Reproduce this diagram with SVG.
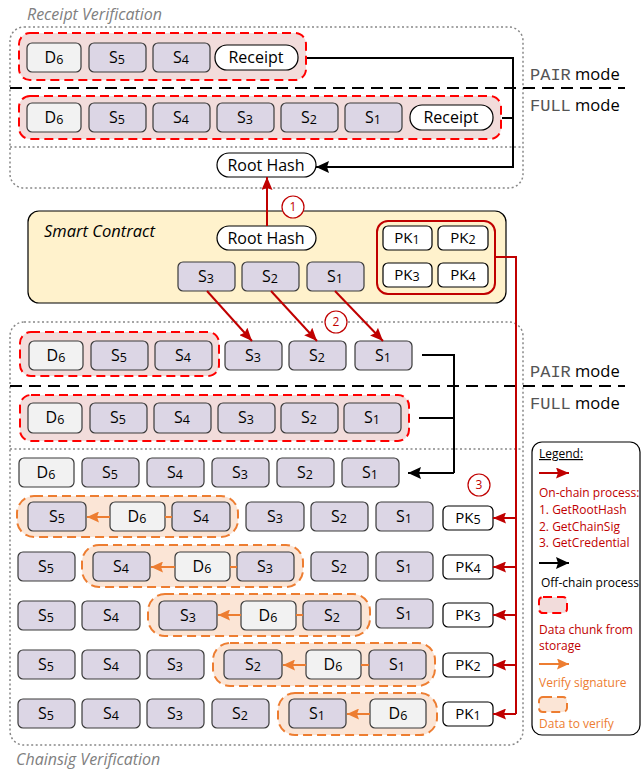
<svg xmlns="http://www.w3.org/2000/svg" width="641" height="771" viewBox="0 0 641 771">
<style>
.s{fill:#dcd6e5;stroke:#3a3a3a;stroke-width:1.2}
.d{fill:#f2f2f2;stroke:#3a3a3a;stroke-width:1.2}
.w{fill:#fff;stroke:#000;stroke-width:1.2}
.rg{fill:#f2dcdb;stroke:#ff0000;stroke-width:2;stroke-dasharray:9 5}
.og{fill:#fbe5d6;stroke:#ed7d31;stroke-width:2;stroke-dasharray:9 5}
.box{fill:none;stroke:#888;stroke-width:1.5;stroke-dasharray:2 2.5}
.dot{stroke:#888;stroke-width:1.5;stroke-dasharray:2 2.5}
.dash{stroke:#000;stroke-width:2;stroke-dasharray:12 7}
text{font-family:"Open Sans","Liberation Sans",sans-serif}
.t{font-size:16px;text-anchor:middle;fill:#000}
.p{font-size:15px}
.sub{font-size:12.5px}
.mono{font-family:"Liberation Mono","Courier New",monospace;font-size:17px;fill:#555}
.mode{font-size:16.5px;fill:#000}
.title{font-size:16px;font-style:italic;fill:#808080}
.red{stroke:#c00000;stroke-width:2;fill:none}
.blk{stroke:#000;stroke-width:2;fill:none}
.org{stroke:#ed7d31;stroke-width:2;fill:none}
.lg{font-size:12px}
.num{font-size:12px;fill:#c00000;text-anchor:middle}
</style>
<defs>
<marker id="ar" viewBox="0 0 13 11" refX="13" refY="5.5" markerWidth="13" markerHeight="11" orient="auto" markerUnits="userSpaceOnUse"><path d="M0,0 L13,5.5 L0,11 L2,5.5 z" fill="#c00000"/></marker>
<marker id="ab" viewBox="0 0 13 12" refX="13" refY="6" markerWidth="13" markerHeight="12" orient="auto" markerUnits="userSpaceOnUse"><path d="M0,0 L13,6 L0,12 L2,6 z" fill="#000"/></marker>
<marker id="ao" viewBox="0 0 12 11" refX="12" refY="5.5" markerWidth="12" markerHeight="11" orient="auto" markerUnits="userSpaceOnUse"><path d="M0,0 L12,5.5 L0,11 L2,5.5 z" fill="#ed7d31"/></marker>
</defs>

<!-- Receipt Verification frame -->
<g id="receipt-verification">
<text class="title" x="27" y="20">Receipt Verification</text>
<rect class="box" x="10" y="27" width="513" height="161" rx="14"/>
<line class="dot" x1="10" y1="147" x2="523" y2="147"/>
<line class="dash" x1="10" y1="88" x2="625" y2="88"/>
<text x="530" y="80" class="mode"><tspan class="mono">PAIR</tspan> mode</text>
<text x="530" y="111" class="mode"><tspan class="mono">FULL</tspan> mode</text>
</g>

<g id="rv-pair">
<rect class="rg" x="19" y="33" width="287" height="47" rx="11"/>
<rect class="d" x="27" y="43" width="54" height="29" rx="5"/><text class="t" x="54" y="63">D<tspan class="sub" dy="1">6</tspan></text>
<rect class="s" x="89" y="43" width="57" height="29" rx="5"/><text class="t" x="117" y="63">S<tspan class="sub" dy="1">5</tspan></text>
<rect class="s" x="153" y="43" width="57" height="29" rx="5"/><text class="t" x="181" y="63">S<tspan class="sub" dy="1">4</tspan></text>
<rect class="w" x="215" y="45" width="83" height="25" rx="12"/><text class="t" x="256" y="63">Receipt</text>
</g>

<g id="rv-full">
<rect class="rg" x="19" y="96" width="482" height="43" rx="11"/>
<rect class="d" x="27" y="103" width="54" height="29" rx="5"/><text class="t" x="54" y="123">D<tspan class="sub" dy="1">6</tspan></text>
<rect class="s" x="89" y="103" width="57" height="29" rx="5"/><text class="t" x="117" y="123">S<tspan class="sub" dy="1">5</tspan></text>
<rect class="s" x="153" y="103" width="57" height="29" rx="5"/><text class="t" x="181" y="123">S<tspan class="sub" dy="1">4</tspan></text>
<rect class="s" x="217" y="103" width="57" height="29" rx="5"/><text class="t" x="245" y="123">S<tspan class="sub" dy="1">3</tspan></text>
<rect class="s" x="281" y="103" width="57" height="29" rx="5"/><text class="t" x="309" y="123">S<tspan class="sub" dy="1">2</tspan></text>
<rect class="s" x="345" y="103" width="57" height="29" rx="5"/><text class="t" x="373" y="123">S<tspan class="sub" dy="1">1</tspan></text>
<rect class="w" x="410" y="105" width="83" height="25" rx="12"/><text class="t" x="451" y="123">Receipt</text>
</g>

<g id="root-hash-top">
<rect class="w" x="217" y="153" width="99" height="24" rx="12"/><text class="t" x="266" y="171">Root Hash</text>
</g>

<!-- Smart contract -->
<g id="smart-contract">
<rect x="28" y="211" width="478" height="92" rx="11" fill="#fff2cc" stroke="#000" stroke-width="1.2"/>
<text x="44" y="237" style="font-size:16.5px;font-style:italic;fill:#000">Smart Contract</text>
<rect class="w" x="217" y="226" width="99" height="24" rx="12"/><text class="t" x="266" y="244">Root Hash</text>
<rect class="s" x="178" y="262" width="57" height="29" rx="5"/><text class="t" x="206" y="282">S<tspan class="sub" dy="1">3</tspan></text>
<rect class="s" x="242" y="262" width="57" height="29" rx="5"/><text class="t" x="270" y="282">S<tspan class="sub" dy="1">2</tspan></text>
<rect class="s" x="307" y="262" width="57" height="29" rx="5"/><text class="t" x="335" y="282">S<tspan class="sub" dy="1">1</tspan></text>
<rect x="377" y="221" width="118" height="73" rx="11" fill="none" stroke="#c00000" stroke-width="2"/>
<rect class="w" x="383" y="226" width="49" height="24" rx="5"/><text class="t p" x="407" y="243">PK<tspan class="sub" dy="1">1</tspan></text>
<rect class="w" x="438" y="226" width="50" height="24" rx="5"/><text class="t p" x="463" y="243">PK<tspan class="sub" dy="1">2</tspan></text>
<rect class="w" x="383" y="263" width="49" height="24" rx="5"/><text class="t p" x="407" y="280">PK<tspan class="sub" dy="1">3</tspan></text>
<rect class="w" x="438" y="263" width="50" height="24" rx="5"/><text class="t p" x="463" y="280">PK<tspan class="sub" dy="1">4</tspan></text>
</g>

<!-- Chainsig Verification frame -->
<g id="chainsig-verification">
<rect class="box" x="10" y="322" width="513" height="423" rx="14"/>
<line class="dot" x1="10" y1="449" x2="523" y2="449"/>
<line class="dash" x1="10" y1="386" x2="625" y2="386"/>
<text x="530" y="377" class="mode"><tspan class="mono">PAIR</tspan> mode</text>
<text x="530" y="409" class="mode"><tspan class="mono">FULL</tspan> mode</text>
<text class="title" x="16" y="765">Chainsig Verification</text>
</g>

<g id="cv-pair">
<rect class="rg" x="20" y="332" width="199" height="44" rx="11"/>
<rect class="d" x="29" y="341" width="54" height="29" rx="5"/><text class="t" x="56" y="361">D<tspan class="sub" dy="1">6</tspan></text>
<rect class="s" x="91" y="341" width="57" height="29" rx="5"/><text class="t" x="119" y="361">S<tspan class="sub" dy="1">5</tspan></text>
<rect class="s" x="155" y="341" width="57" height="29" rx="5"/><text class="t" x="183" y="361">S<tspan class="sub" dy="1">4</tspan></text>
<rect class="s" x="225" y="341" width="57" height="29" rx="5"/><text class="t" x="253" y="361">S<tspan class="sub" dy="1">3</tspan></text>
<rect class="s" x="289" y="341" width="57" height="29" rx="5"/><text class="t" x="317" y="361">S<tspan class="sub" dy="1">2</tspan></text>
<rect class="s" x="355" y="341" width="57" height="29" rx="5"/><text class="t" x="383" y="361">S<tspan class="sub" dy="1">1</tspan></text>
</g>

<g id="cv-full">
<rect class="rg" x="20" y="395" width="389" height="46" rx="11"/>
<rect class="d" x="28" y="403" width="54" height="30" rx="5"/><text class="t" x="55" y="423">D<tspan class="sub" dy="1">6</tspan></text>
<rect class="s" x="90" y="403" width="57" height="30" rx="5"/><text class="t" x="118" y="423">S<tspan class="sub" dy="1">5</tspan></text>
<rect class="s" x="154" y="403" width="57" height="30" rx="5"/><text class="t" x="182" y="423">S<tspan class="sub" dy="1">4</tspan></text>
<rect class="s" x="218" y="403" width="57" height="30" rx="5"/><text class="t" x="246" y="423">S<tspan class="sub" dy="1">3</tspan></text>
<rect class="s" x="281" y="403" width="57" height="30" rx="5"/><text class="t" x="309" y="423">S<tspan class="sub" dy="1">2</tspan></text>
<rect class="s" x="344" y="403" width="57" height="30" rx="5"/><text class="t" x="372" y="423">S<tspan class="sub" dy="1">1</tspan></text>
</g>

<g id="cv-row3">
<rect class="d" x="19" y="458" width="55" height="29" rx="5"/><text class="t" x="46" y="478">D<tspan class="sub" dy="1">6</tspan></text>
<rect class="s" x="82" y="458" width="57" height="29" rx="5"/><text class="t" x="110" y="478">S<tspan class="sub" dy="1">5</tspan></text>
<rect class="s" x="147" y="458" width="57" height="29" rx="5"/><text class="t" x="175" y="478">S<tspan class="sub" dy="1">4</tspan></text>
<rect class="s" x="212" y="458" width="57" height="29" rx="5"/><text class="t" x="240" y="478">S<tspan class="sub" dy="1">3</tspan></text>
<rect class="s" x="277" y="458" width="57" height="29" rx="5"/><text class="t" x="305" y="478">S<tspan class="sub" dy="1">2</tspan></text>
<rect class="s" x="342" y="458" width="57" height="29" rx="5"/><text class="t" x="370" y="478">S<tspan class="sub" dy="1">1</tspan></text>
</g>

<g id="cv-row4">
<rect class="og" x="17" y="496" width="221" height="41" rx="17"/>
<rect class="s" x="28" y="502" width="58" height="29" rx="5"/><text class="t" x="57" y="522">S<tspan class="sub" dy="1">5</tspan></text>
<rect class="d" x="110" y="502" width="55" height="29" rx="5"/><text class="t" x="137" y="522">D<tspan class="sub" dy="1">6</tspan></text>
<rect class="s" x="172" y="502" width="58" height="29" rx="5"/><text class="t" x="201" y="522">S<tspan class="sub" dy="1">4</tspan></text>
<rect class="s" x="246" y="502" width="58" height="29" rx="5"/><text class="t" x="275" y="522">S<tspan class="sub" dy="1">3</tspan></text>
<rect class="s" x="311" y="502" width="57" height="29" rx="5"/><text class="t" x="339" y="522">S<tspan class="sub" dy="1">2</tspan></text>
<rect class="s" x="376" y="502" width="57" height="29" rx="5"/><text class="t" x="404" y="522">S<tspan class="sub" dy="1">1</tspan></text>
<rect class="w" x="443" y="506" width="50" height="24" rx="5"/><text class="t p" x="468" y="523">PK<tspan class="sub" dy="1">5</tspan></text>
</g>

<g id="cv-row5">
<rect class="s" x="18" y="552" width="57" height="29" rx="5"/><text class="t" x="46" y="572">S<tspan class="sub" dy="1">5</tspan></text>
<rect class="og" x="82" y="545" width="221" height="42" rx="17"/>
<rect class="s" x="93" y="552" width="57" height="29" rx="5"/><text class="t" x="121" y="572">S<tspan class="sub" dy="1">4</tspan></text>
<rect class="d" x="175" y="552" width="55" height="29" rx="5"/><text class="t" x="202" y="572">D<tspan class="sub" dy="1">6</tspan></text>
<rect class="s" x="237" y="552" width="57" height="29" rx="5"/><text class="t" x="265" y="572">S<tspan class="sub" dy="1">3</tspan></text>
<rect class="s" x="311" y="552" width="57" height="29" rx="5"/><text class="t" x="339" y="572">S<tspan class="sub" dy="1">2</tspan></text>
<rect class="s" x="376" y="552" width="57" height="29" rx="5"/><text class="t" x="404" y="572">S<tspan class="sub" dy="1">1</tspan></text>
<rect class="w" x="443" y="555" width="50" height="24" rx="5"/><text class="t p" x="468" y="572">PK<tspan class="sub" dy="1">4</tspan></text>
</g>

<g id="cv-row6">
<rect class="s" x="18" y="601" width="57" height="29" rx="5"/><text class="t" x="46" y="621">S<tspan class="sub" dy="1">5</tspan></text>
<rect class="s" x="82" y="601" width="58" height="29" rx="5"/><text class="t" x="111" y="621">S<tspan class="sub" dy="1">4</tspan></text>
<rect class="og" x="148" y="594" width="222" height="42" rx="17"/>
<rect class="s" x="159" y="601" width="58" height="29" rx="5"/><text class="t" x="188" y="621">S<tspan class="sub" dy="1">3</tspan></text>
<rect class="d" x="241" y="601" width="55" height="29" rx="5"/><text class="t" x="268" y="621">D<tspan class="sub" dy="1">6</tspan></text>
<rect class="s" x="303" y="601" width="58" height="29" rx="5"/><text class="t" x="332" y="621">S<tspan class="sub" dy="1">2</tspan></text>
<rect class="s" x="376" y="599" width="57" height="29" rx="5"/><text class="t" x="404" y="619">S<tspan class="sub" dy="1">1</tspan></text>
<rect class="w" x="443" y="603" width="50" height="24" rx="5"/><text class="t p" x="468" y="620">PK<tspan class="sub" dy="1">3</tspan></text>
</g>

<g id="cv-row7">
<rect class="s" x="18" y="650" width="57" height="29" rx="5"/><text class="t" x="46" y="670">S<tspan class="sub" dy="1">5</tspan></text>
<rect class="s" x="82" y="650" width="58" height="29" rx="5"/><text class="t" x="111" y="670">S<tspan class="sub" dy="1">4</tspan></text>
<rect class="s" x="147" y="650" width="57" height="29" rx="5"/><text class="t" x="175" y="670">S<tspan class="sub" dy="1">3</tspan></text>
<rect class="og" x="213" y="643" width="222" height="43" rx="17"/>
<rect class="s" x="224" y="650" width="58" height="29" rx="5"/><text class="t" x="253" y="670">S<tspan class="sub" dy="1">2</tspan></text>
<rect class="d" x="306" y="650" width="55" height="29" rx="5"/><text class="t" x="333" y="670">D<tspan class="sub" dy="1">6</tspan></text>
<rect class="s" x="369" y="650" width="57" height="29" rx="5"/><text class="t" x="397" y="670">S<tspan class="sub" dy="1">1</tspan></text>
<rect class="w" x="443" y="653" width="50" height="24" rx="5"/><text class="t p" x="468" y="670">PK<tspan class="sub" dy="1">2</tspan></text>
</g>

<g id="cv-row8">
<rect class="s" x="18" y="699" width="57" height="29" rx="5"/><text class="t" x="46" y="719">S<tspan class="sub" dy="1">5</tspan></text>
<rect class="s" x="82" y="699" width="58" height="29" rx="5"/><text class="t" x="111" y="719">S<tspan class="sub" dy="1">4</tspan></text>
<rect class="s" x="147" y="699" width="57" height="29" rx="5"/><text class="t" x="175" y="719">S<tspan class="sub" dy="1">3</tspan></text>
<rect class="s" x="212" y="699" width="57" height="29" rx="5"/><text class="t" x="240" y="719">S<tspan class="sub" dy="1">2</tspan></text>
<rect class="og" x="278" y="693" width="159" height="42" rx="17"/>
<rect class="s" x="289" y="699" width="57" height="29" rx="5"/><text class="t" x="317" y="719">S<tspan class="sub" dy="1">1</tspan></text>
<rect class="d" x="370" y="699" width="56" height="29" rx="5"/><text class="t" x="398" y="719">D<tspan class="sub" dy="1">6</tspan></text>
<rect class="w" x="443" y="702" width="50" height="24" rx="5"/><text class="t p" x="468" y="719">PK<tspan class="sub" dy="1">1</tspan></text>
</g>

<!-- Connectors -->
<g id="connectors">
<polyline class="blk" points="307,58 513,58 513,168" />
<line class="blk" x1="502" y1="118" x2="513" y2="118"/>
<line class="blk" x1="513" y1="167" x2="316" y2="167" marker-end="url(#ab)"/>
<line class="red" x1="267" y1="226" x2="267" y2="177" marker-end="url(#ar)"/>
<line class="red" x1="207" y1="291" x2="252" y2="341" marker-end="url(#ar)"/>
<line class="red" x1="271" y1="291" x2="317" y2="341" marker-end="url(#ar)"/>
<line class="red" x1="335" y1="291" x2="383" y2="341" marker-end="url(#ar)"/>
<polyline class="red" points="495,257 516,257 516,714"/>
<line class="red" x1="516" y1="518" x2="493" y2="518" marker-end="url(#ar)"/>
<line class="red" x1="516" y1="567" x2="493" y2="567" marker-end="url(#ar)"/>
<line class="red" x1="516" y1="615" x2="493" y2="615" marker-end="url(#ar)"/>
<line class="red" x1="516" y1="665" x2="493" y2="665" marker-end="url(#ar)"/>
<line class="red" x1="516" y1="714" x2="493" y2="714" marker-end="url(#ar)"/>
<polyline class="blk" points="422,355 454,355 454,473"/>
<line class="blk" x1="419" y1="418" x2="454" y2="418"/>
<line class="blk" x1="454" y1="473" x2="408" y2="473" marker-end="url(#ab)"/>
<line class="org" x1="110" y1="517" x2="87" y2="517" marker-end="url(#ao)"/>
<line class="org" x1="165" y1="517" x2="172" y2="517"/>
<line class="org" x1="175" y1="567" x2="151" y2="567" marker-end="url(#ao)"/>
<line class="org" x1="230" y1="567" x2="237" y2="567"/>
<line class="org" x1="241" y1="615" x2="218" y2="615" marker-end="url(#ao)"/>
<line class="org" x1="296" y1="615" x2="303" y2="615"/>
<line class="org" x1="306" y1="665" x2="283" y2="665" marker-end="url(#ao)"/>
<line class="org" x1="361" y1="665" x2="369" y2="665"/>
<line class="org" x1="370" y1="714" x2="347" y2="714" marker-end="url(#ao)"/>
<circle cx="293" cy="207" r="11" fill="#fff" stroke="#c00000" stroke-width="1.2"/><text class="num" x="293" y="211">1</text>
<circle cx="336" cy="322" r="11" fill="#fff" stroke="#c00000" stroke-width="1.2"/><text class="num" x="336" y="326">2</text>
<circle cx="479" cy="485" r="11" fill="#fff" stroke="#c00000" stroke-width="1.2"/><text class="num" x="479" y="489">3</text>
</g>

<!-- Legend -->
<g id="legend">
<rect x="532" y="442" width="108" height="293" rx="10" fill="#fff" stroke="#000" stroke-width="1.2"/>
<text class="lg" x="539" y="458" text-decoration="underline" fill="#000">Legend:</text>
<line class="red" x1="539" y1="473" x2="569" y2="473" marker-end="url(#ar)"/>
<text class="lg" x="539" y="497" fill="#c00000">On-chain process:</text>
<text class="lg" x="539" y="514" fill="#c00000">1. GetRootHash</text>
<text class="lg" x="539" y="531" fill="#c00000">2. GetChainSig</text>
<text class="lg" x="539" y="547" fill="#c00000">3. GetCredential</text>
<line class="blk" x1="539" y1="563" x2="569" y2="563" marker-end="url(#ab)"/>
<text class="lg" x="541" y="587" fill="#000">Off-chain process</text>
<rect class="rg" x="539" y="597" width="28" height="16" rx="4"/>
<text class="lg" x="539" y="634" fill="#c00000">Data chunk from</text>
<text class="lg" x="539" y="650" fill="#c00000">storage</text>
<line class="org" x1="539" y1="664" x2="569" y2="664" marker-end="url(#ao)"/>
<text class="lg" x="539" y="687" fill="#ed7d31">Verify signature</text>
<rect class="og" x="539" y="697" width="28" height="15" rx="4"/>
<text class="lg" x="539" y="728" fill="#ed7d31">Data to verify</text>
</g>
</svg>
